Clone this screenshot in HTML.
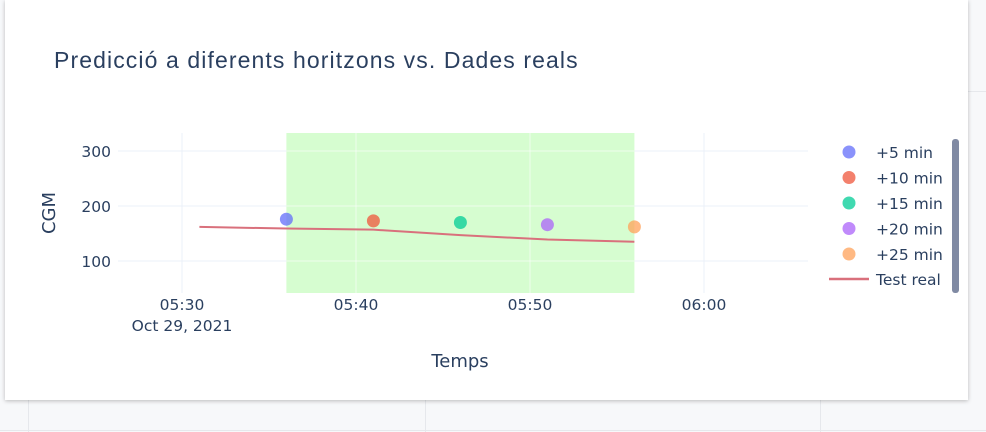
<!DOCTYPE html>
<html><head><meta charset="utf-8"><style>
body{margin:0;width:986px;height:432px;overflow:hidden;background:#f7f8fa;font-family:"Liberation Sans",sans-serif;position:relative}
#card{position:absolute;left:5px;top:0;width:963px;height:400px;background:#fff;box-shadow:0 1px 4px rgba(0,0,0,0.25)}
</style></head><body>
<div style="position:absolute;left:0;top:0;width:986px;height:432px">
<div style="position:absolute;left:968px;top:91px;width:18px;height:1px;background:#e6e8ec"></div>
<div style="position:absolute;left:0;top:430px;width:986px;height:1px;background:#e6e8ec"></div>
<div style="position:absolute;left:28px;top:400px;width:1px;height:32px;background:#e6e8ec"></div>
<div style="position:absolute;left:425px;top:400px;width:1px;height:32px;background:#e6e8ec"></div>
<div style="position:absolute;left:820px;top:400px;width:1px;height:32px;background:#e6e8ec"></div>
</div>
<div id="card"></div>
<svg id="chart" width="986" height="432" style="position:absolute;left:0;top:0" font-family="DejaVu Sans, sans-serif">
<text x="54" y="68" font-size="23" letter-spacing="1.1" font-family="Liberation Sans, sans-serif" fill="#2a3f5f">Predicció a diferents horitzons vs. Dades reals</text>
<g id="grid"></g><g id="marks"></g>
<text transform="translate(55,213) rotate(-90)" text-anchor="middle" font-size="18" fill="#2a3f5f">CGM</text>
<text x="460" y="367" text-anchor="middle" font-size="18" fill="#2a3f5f">Temps</text>
<g id="legend"></g>
<rect x="952" y="139" width="7" height="154" rx="3" fill="#808aa3"/>
</svg>
<script>
const minutes=[31,36,41,46,51,56];
const realValues=[162,159,157,147,139,135];
const predMinutes=[36,41,46,51,56];
const predValues=[176,173,170,166,162];
const predLabels=["+5 min","+10 min","+15 min","+20 min","+25 min"];
const predColors=["#636efa","#ef553b","#00cc96","#ab63fa","#ffa15a"];
const yTicks=[100,200,300];
const xTicks=[30,40,50,60];
const xTickLabels=["05:30","05:40","05:50","06:00"];
const shadeRange=[36,56];
const L=118,R=808,T=133,B=293;
const x=m=>182+(m-30)*17.4;
const y=v=>261-(v-100)*0.55;
const NS="http://www.w3.org/2000/svg";
function mk(tag,attrs,parent){const e=document.createElementNS(NS,tag);for(const k in attrs)e.setAttribute(k,attrs[k]);parent.appendChild(e);return e;}
const grid=document.getElementById('grid'),marks=document.getElementById('marks'),leg=document.getElementById('legend');
yTicks.forEach(v=>{const l=mk('line',{x1:L,x2:R,y1:y(v),y2:y(v),stroke:'#ebf0f8','stroke-width':1},grid);

const t=mk('text',{x:111,y:y(v)+6,'text-anchor':'end','font-size':15.5,fill:'#2a3f5f'},grid);t.textContent=v;
});
xTicks.forEach((m,i)=>{const l=mk('line',{x1:x(m),x2:x(m),y1:T,y2:B,stroke:'#ebf0f8','stroke-width':1},grid);

const t=mk('text',{x:x(m),y:310,'text-anchor':'middle','font-size':15.5,fill:'#2a3f5f'},grid);t.textContent=xTickLabels[i];
});
const d=mk('text',{x:x(xTicks[0]),y:331,'text-anchor':'middle','font-size':15.5,fill:'#2a3f5f'},grid);d.textContent="Oct 29, 2021";

const sh=mk('rect',{x:x(shadeRange[0]),y:T,width:x(shadeRange[1])-x(shadeRange[0]),height:B-T,fill:'#ccfcc4',opacity:0.8},grid);

const gl=mk('g',{},grid);
yTicks.forEach(v=>mk('line',{x1:x(shadeRange[0]),x2:x(shadeRange[1]),y1:y(v),y2:y(v),stroke:'#fff','stroke-opacity':0.6},gl));
xTicks.forEach(m=>{if(m>shadeRange[0]&&m<shadeRange[1])mk('line',{x1:x(m),x2:x(m),y1:T,y2:B,stroke:'#fff','stroke-opacity':0.6},gl);});
const ln=mk('polyline',{points:minutes.map((m,i)=>x(m)+','+y(realValues[i])).join(' '),fill:'none',stroke:'#d9707c','stroke-width':2},marks);

predMinutes.forEach((m,i)=>{const c=mk('circle',{cx:x(m),cy:y(predValues[i]),r:6.5,fill:predColors[i],opacity:0.75},marks);
});
predLabels.forEach((lab,i)=>{const g=mk('g',{},leg);

const yy=152+i*25.5;mk('circle',{cx:849,cy:yy,r:6.5,fill:predColors[i],opacity:0.75},g);
const t=mk('text',{x:876,y:yy+6,'font-size':15.5,fill:'#2a3f5f'},g);t.textContent=lab;});
const g=mk('g',{},leg);
mk('line',{x1:829,x2:869,y1:279,y2:279,stroke:'#d9707c','stroke-width':2.5},g);
const t=mk('text',{x:876,y:285,'font-size':15.5,fill:'#2a3f5f'},g);t.textContent="Test real";
</script>
</body></html>
